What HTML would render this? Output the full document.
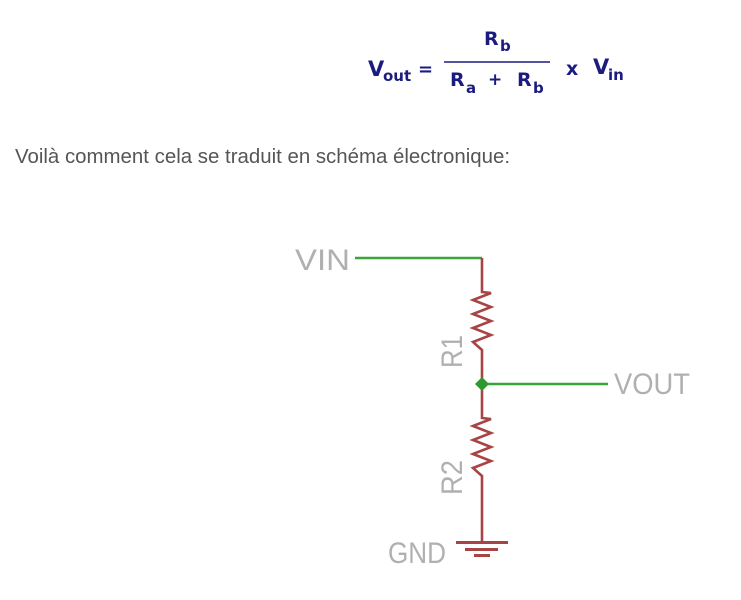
<!DOCTYPE html>
<html><head><meta charset="utf-8"><style>
html,body{margin:0;padding:0;background:#fff;width:741px;height:600px;overflow:hidden}
</style></head><body>
<svg width="741" height="600" xmlns="http://www.w3.org/2000/svg" style="position:absolute;left:0;top:0">
<g font-family="Verdana, 'DejaVu Sans', sans-serif" font-weight="bold" fill="#1b1b80">
<text x="368" y="76" font-size="21">V</text>
<text x="383" y="81" font-size="15">out</text>
<text x="418" y="75" font-size="18">=</text>
<line x1="444" y1="62" x2="550" y2="62" stroke="#1b1b80" stroke-width="1.5"/>
<text x="484" y="45" font-size="19">R</text>
<text x="500" y="51" font-size="15">b</text>
<text x="450" y="86" font-size="19">R</text>
<text x="466" y="93" font-size="15">a</text>
<text x="488" y="85" font-size="17">+</text>
<text x="517" y="86" font-size="19">R</text>
<text x="533" y="93" font-size="15">b</text>
<text x="566" y="75" font-size="19">x</text>
<text x="593" y="74" font-size="21">V</text>
<text x="608" y="80" font-size="15">in</text>
</g>
<text x="15" y="163" font-family="'Liberation Sans', sans-serif" font-size="20" fill="#555" textLength="495" lengthAdjust="spacingAndGlyphs">Voilà comment cela se traduit en schéma électronique:</text>
<g fill="none" stroke-linejoin="miter">
<polyline points="355,258 482,258" stroke="#3aa33a" stroke-width="2.5"/>
<polyline points="482,384 608,384" stroke="#3aa33a" stroke-width="2.5"/>
<polyline points="482,258 482,292 491,293 473,300 491,307 473,314 491,321 473,328 491,335 473,342 482,350 482,418 491,419 473,426 491,433 473,440 491,447 473,454 491,461 473,468 482,476 482,542" stroke="#a94444" stroke-width="2.6"/>
</g>
<polygon points="482,377 489,384 482,391 475,384" fill="#2e9a2e"/>
<rect x="456" y="541" width="52" height="3" fill="#a94444"/>
<rect x="465" y="548" width="33" height="3" fill="#a94444"/>
<rect x="474" y="554" width="16" height="3" fill="#a94444"/>
<g font-family="'Liberation Sans', sans-serif" fill="#b0b0b0" font-size="30">
<text x="295" y="270" textLength="55" lengthAdjust="spacingAndGlyphs">VIN</text>
<text x="614" y="394" textLength="76" lengthAdjust="spacingAndGlyphs">VOUT</text>
<text x="388" y="563" textLength="58" lengthAdjust="spacingAndGlyphs">GND</text>
<text transform="translate(462,368) rotate(-90)" textLength="33" lengthAdjust="spacingAndGlyphs">R1</text>
<text transform="translate(462,495) rotate(-90)" textLength="35" lengthAdjust="spacingAndGlyphs">R2</text>
</g>
</svg>
</body></html>
